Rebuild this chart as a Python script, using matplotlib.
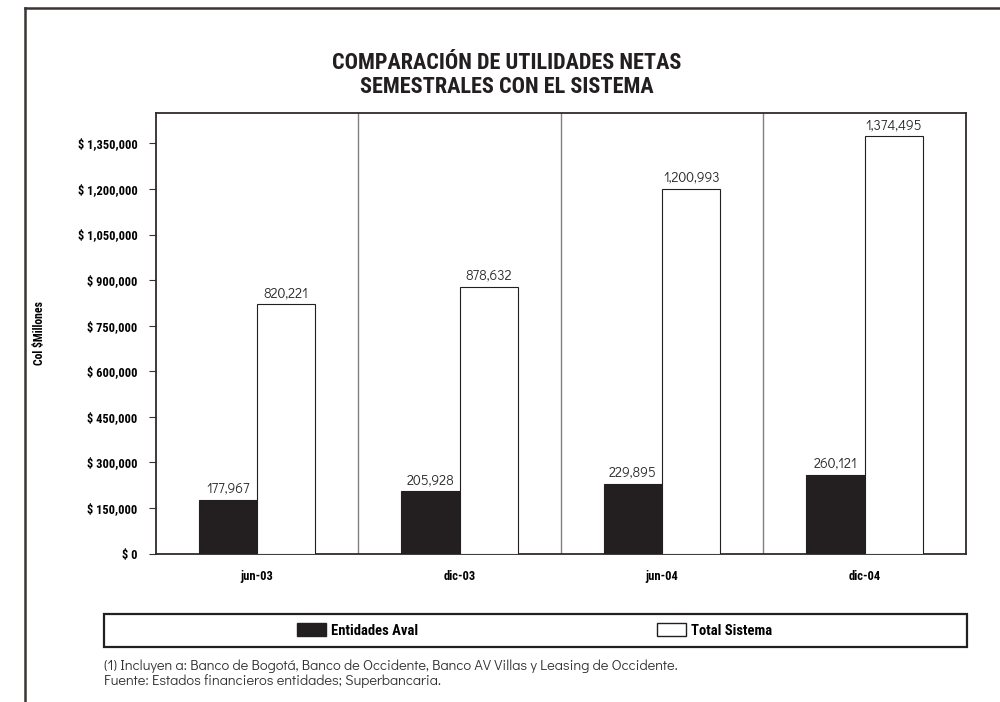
import numpy as np
import matplotlib
matplotlib.use("Agg")
import matplotlib.pyplot as plt
from matplotlib.patches import Patch, Rectangle
from matplotlib.lines import Line2D

# data
periodos = ["jun-03", "dic-03", "jun-04", "dic-04"]
entidades_aval = [177967, 205928, 229895, 260121]
total_sistema = [820221, 878632, 1200993, 1374495]
y_ticks = [0, 150000, 300000, 450000, 600000, 750000, 900000, 1050000, 1200000, 1350000]

cond = ["Roboto Condensed", "IBM Plex Sans Condensed", "DejaVu Sans"]
gothic = ["Didact Gothic", "Questrial", "DejaVu Sans"]
dark = "#231f20"

fig = plt.figure(figsize=(10, 7.02), dpi=100)
ax = fig.add_axes([0.1557, 0.2113, 0.8103, 0.6277])

x = np.arange(len(periodos))
w = 0.288
b1 = ax.bar(x - w / 2, entidades_aval, w, color=dark, edgecolor=dark, linewidth=0.8, zorder=3)
b2 = ax.bar(x + w / 2, total_sistema, w, color="white", edgecolor=dark, linewidth=0.8, zorder=3)

for bars, vals in ((b1, entidades_aval), (b2, total_sistema)):
    for r, v in zip(bars, vals):
        ax.annotate(f"{v:,}", (r.get_x() + r.get_width() / 2, v), xytext=(0, 3),
                    textcoords="offset points", ha="center", va="bottom",
                    fontsize=10, color="#2a2a2a", family=gothic)

ax.set_xlim(-0.5, len(periodos) - 0.5)
ax.set_ylim(0, 1450000)
for b in np.arange(0.5, len(periodos) - 0.5):
    ax.axvline(b, color="#808080", lw=1, zorder=1)

ax.set_yticks(y_ticks)
ax.set_yticklabels([f"$ {v:,}" for v in y_ticks], family=cond, fontweight="bold", fontsize=9)
ax.set_xticks(x)
ax.set_xticklabels(periodos, family=cond, fontweight="bold", fontsize=9)
ax.tick_params(axis="y", direction="out", length=5, color="#333333", pad=8)
ax.tick_params(axis="x", length=0, pad=12)
for s in ax.spines.values():
    s.set_color("#302a28")
    s.set_linewidth(1.3)
ax.set_ylabel("Col $Millones", family=cond, fontweight="bold", fontsize=8.5, labelpad=23)

fig.text(0.507, 0.893, "COMPARACIÓN DE UTILIDADES NETAS\nSEMESTRALES CON EL SISTEMA",
         ha="center", va="center", family=cond, fontweight="bold", fontsize=16,
         linespacing=1.12, color=dark)

# legend box
fig.add_artist(Rectangle((0.104, 1 - 647 / 702), 0.863, 33 / 702, transform=fig.transFigure,
                         fill=False, edgecolor=dark, lw=1.6))
handles = [Patch(facecolor=dark, edgecolor=dark, label="Entidades Aval"),
           Patch(facecolor="white", edgecolor=dark, label="Total Sistema")]
fig.legend(handles=handles, ncol=2, loc="center", bbox_to_anchor=(0.5345, 1 - 630.5 / 702),
           frameon=False, prop={"family": cond, "weight": "bold", "size": 10.5},
           handlelength=2.0, handleheight=0.9, handletextpad=0.35, columnspacing=16.4)

fig.text(0.104, 1 - 666 / 702, "(1) Incluyen a: Banco de Bogotá, Banco de Occidente, Banco AV Villas y Leasing de Occidente.",
         fontsize=10.5, va="center", color="#333333", family=gothic)
fig.text(0.104, 1 - 681 / 702, "Fuente: Estados financieros entidades; Superbancaria.",
         fontsize=10.5, va="center", color="#333333", family=gothic)

# outer frame
fig.add_artist(Line2D([0.0245, 0.0245], [0, 1 - 7.5 / 702], transform=fig.transFigure, color="#3a3532", lw=1.8))
fig.add_artist(Line2D([0.0245, 1.0], [1 - 7.5 / 702, 1 - 7.5 / 702], transform=fig.transFigure, color="#3a3532", lw=1.8))

fig.savefig("out.png", dpi=100)
